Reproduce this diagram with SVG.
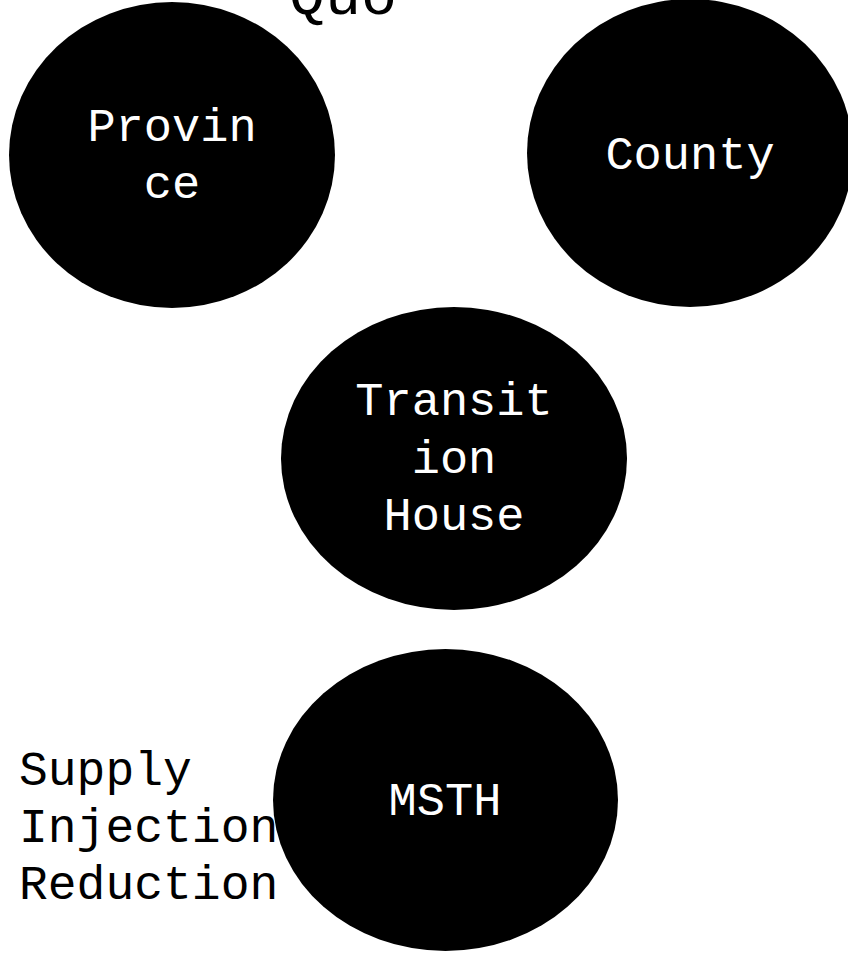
<svg xmlns="http://www.w3.org/2000/svg" width="848" height="953" viewBox="0 0 848 953">
<style>
.node{fill:#000;}
.lbl{font-family:"Liberation Mono","Courier New",monospace;font-size:47px;fill:#fff;text-anchor:middle;}
.free{font-family:"Liberation Mono","Courier New",monospace;font-size:48px;fill:#000;}
.title{font-family:"Liberation Mono","Courier New",monospace;font-size:60px;fill:#000;text-anchor:middle;}
</style>
<rect width="848" height="953" fill="#fff"/>
<g id="title"><text class="title" x="343" y="14">Quo</text></g>
<g id="connectors"></g>
<g id="province">
<ellipse class="node" cx="172" cy="155" rx="163" ry="153"/>
<text class="lbl" x="172" y="141">Provin</text>
<text class="lbl" x="172" y="198">ce</text>
</g>
<g id="county">
<ellipse class="node" cx="690" cy="153" rx="163" ry="154"/>
<text class="lbl" x="690" y="169">County</text>
</g>
<g id="transition-house">
<ellipse class="node" cx="454" cy="458.5" rx="173" ry="151.5"/>
<text class="lbl" x="454" y="415">Transit</text>
<text class="lbl" x="454" y="473">ion</text>
<text class="lbl" x="454" y="530">House</text>
</g>
<g id="msth">
<ellipse class="node" cx="445.5" cy="800" rx="172.5" ry="151"/>
<text class="lbl" x="445" y="815">MSTH</text>
</g>
<g id="supply-injection-reduction">
<text class="free" x="19" y="785">Supply</text>
<text class="free" x="19" y="842">Injection</text>
<text class="free" x="19" y="899">Reduction</text>
</g>
</svg>
